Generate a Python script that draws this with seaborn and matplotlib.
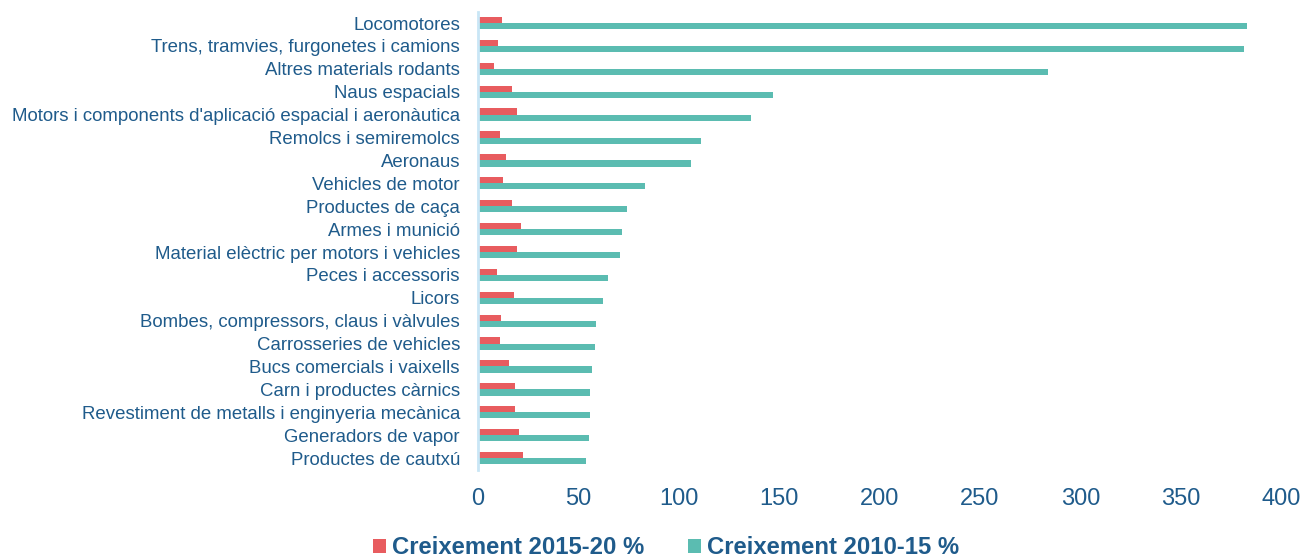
import pandas as pd
import seaborn as sns
import matplotlib.pyplot as plt

# Data
sectors = [
    "Locomotores",
    "Trens, tramvies, furgonetes i camions",
    "Altres materials rodants",
    "Naus espacials",
    "Motors i components d'aplicació espacial i aeronàutica",
    "Remolcs i semiremolcs",
    "Aeronaus",
    "Vehicles de motor",
    "Productes de caça",
    "Armes i munició",
    "Material elèctric per motors i vehicles",
    "Peces i accessoris",
    "Licors",
    "Bombes, compressors, claus i vàlvules",
    "Carrosseries de vehicles",
    "Bucs comercials i vaixells",
    "Carn i productes càrnics",
    "Revestiment de metalls i enginyeria mecànica",
    "Generadors de vapor",
    "Productes de cautxú",
]
growth_2015_20 = [11.8, 10.1, 8.0, 17.1, 19.4, 11.1, 13.9, 12.6, 16.8, 21.3,
                  19.3, 9.3, 17.9, 11.6, 11.0, 15.6, 18.6, 18.6, 20.3, 22.6]
growth_2010_15 = [383, 381.5, 284, 147, 136, 111, 106, 83, 74, 71.7,
                  70.6, 64.8, 62.3, 59, 58.3, 56.8, 55.8, 55.6, 55.3, 54]
series = ["Creixement 2015-20 %", "Creixement 2010-15 %"]
colors = ["#e85c5f", "#5bbcb1"]
text_color = "#1f5b8b"

df = pd.DataFrame({
    "Sector": sectors * 2,
    "Valor": growth_2015_20 + growth_2010_15,
    "Serie": [series[0]] * len(sectors) + [series[1]] * len(sectors),
})

sns.set_style("white")
plt.rcParams["font.family"] = ["Liberation Sans", "DejaVu Sans"]

fig = plt.figure(figsize=(13.04, 5.58), dpi=100)
ax = fig.add_axes([0.3666, 0.1586, 0.6158, 0.8206])

sns.barplot(data=df, x="Valor", y="Sector", hue="Serie", hue_order=series,
            palette=colors, orient="h", width=0.54, saturation=1,
            linewidth=0, errorbar=None, ax=ax)

ax.set_xlim(0, 400)
ax.set_ylim(len(sectors) - 0.5, -0.5)
ax.set_xticks(range(0, 401, 50))
ax.set_xlabel("")
ax.set_ylabel("")
for side in ["top", "right", "bottom"]:
    ax.spines[side].set_visible(False)
ax.spines["left"].set_color("#c9e6f6")
ax.spines["left"].set_linewidth(2)
ax.tick_params(axis="y", length=0, pad=13, labelsize=13.4, labelcolor=text_color)
ax.tick_params(axis="x", length=0, pad=13, labelsize=17, labelcolor=text_color)

handles, labels = ax.get_legend_handles_labels()
ax.legend_.remove()
fig.legend(handles, labels, loc="center", bbox_to_anchor=(0.5107, 0.018),
           ncol=2, frameon=False, handlelength=0.53, handleheight=0.53,
           handletextpad=0.25, columnspacing=1.83,
           prop={"weight": "bold", "size": 17.2}, labelcolor=text_color)

fig.savefig("out.png", dpi=100)
